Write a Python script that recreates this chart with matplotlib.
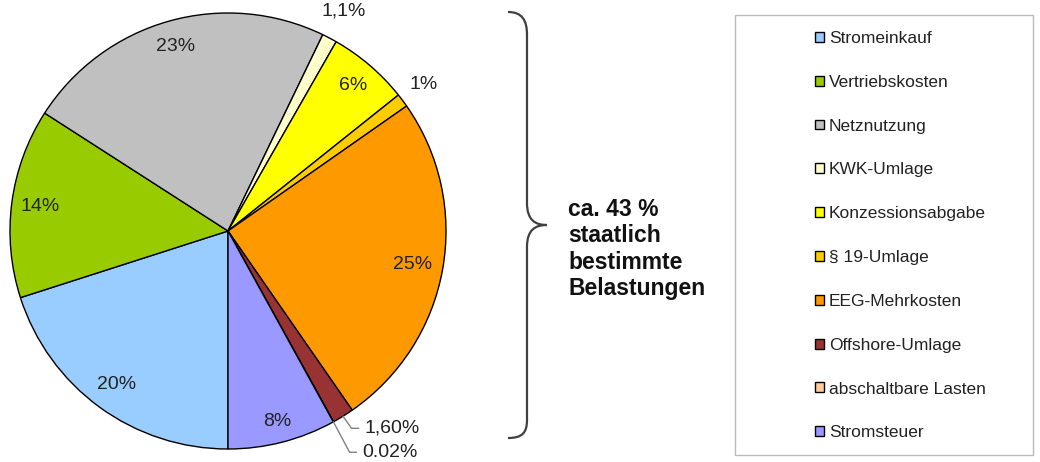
import numpy as np
import matplotlib
matplotlib.use("Agg")
import matplotlib.pyplot as plt
from matplotlib.path import Path
from matplotlib.patches import PathPatch, Rectangle

plt.rcParams['font.family'] = ['Liberation Sans', 'DejaVu Sans']

# Anteile am Strompreis (in %)
names = ["Stromeinkauf", "Vertriebskosten", "Netznutzung", "KWK-Umlage",
         "Konzessionsabgabe", "§ 19-Umlage", "EEG-Mehrkosten",
         "Offshore-Umlage", "abschaltbare Lasten", "Stromsteuer"]
values = [20, 14, 23, 1.1, 6, 1, 25, 1.6, 0.02, 8]
labels = ["20%", "14%", "23%", "1,1%", "6%", "1%", "25%", "1,60%", "0.02%", "8%"]
colors = ["#99CCFF", "#99CC00", "#C0C0C0", "#FFFFCC", "#FFFF00",
          "#FFCC00", "#FF9900", "#993333", "#FFCC99", "#9999FF"]
# label radius relative to pie radius (None -> leader line)
label_r = [0.87, 0.87, 0.88, 1.14, 0.88, 1.12, 0.86, None, None, 0.9]

W, H = 1040, 462
fig = plt.figure(figsize=(W / 100, H / 100), dpi=100)

# overlay in pixel coords
ov = fig.add_axes([0, 0, 1, 1])
ov.set_xlim(0, W)
ov.set_ylim(H, 0)
ov.axis('off')

cx, cy, R = 228, 231, 218
ax = fig.add_axes([(cx - R) / W, (H - cy - R) / H, 2 * R / W, 2 * R / H])
wedges, _ = ax.pie(values, colors=colors, startangle=-90, counterclock=False,
                   radius=1, wedgeprops=dict(edgecolor='black', linewidth=1))
ax.set_xlim(-1, 1)
ax.set_ylim(-1, 1)
ax.set_aspect('equal')
ax.axis('off')

for w, lab, r in zip(wedges, labels, label_r):
    mid = np.deg2rad((w.theta1 + w.theta2) / 2)
    if r is not None:
        ax.text(r * np.cos(mid), r * np.sin(mid), lab, ha='center', va='center',
                fontsize=14, color='#222222')

# leader lines for the tiny slices
w_off, w_abs = wedges[7], wedges[8]
m = np.deg2rad((w_off.theta1 + w_off.theta2) / 2)
ax.annotate(labels[7], xy=(np.cos(m), np.sin(m)), xytext=(0.625, -0.905),
            fontsize=14, color='#222222', va='center', ha='left',
            arrowprops=dict(arrowstyle='-', color='#808080', lw=1,
                            shrinkA=2, shrinkB=0,
                            connectionstyle='angle,angleA=0,angleB=125,rad=0'),
            annotation_clip=False)
m = np.deg2rad((w_abs.theta1 + w_abs.theta2) / 2)
ax.annotate(labels[8], xy=(np.cos(m), np.sin(m)), xytext=(0.615, -1.015),
            fontsize=14, color='#222222', va='center', ha='left',
            arrowprops=dict(arrowstyle='-', color='#808080', lw=1,
                            shrinkA=2, shrinkB=0,
                            connectionstyle='angle,angleA=0,angleB=118,rad=0'),
            annotation_clip=False)

# curly brace
verts = [(508, 12), (522, 12), (527, 20), (527, 35),
         (527, 203),
         (527, 220), (535, 225), (547, 225),
         (535, 225), (527, 230), (527, 247),
         (527, 420),
         (527, 433), (522, 438), (508, 438)]
codes = [Path.MOVETO, Path.CURVE4, Path.CURVE4, Path.CURVE4,
         Path.LINETO,
         Path.CURVE4, Path.CURVE4, Path.CURVE4,
         Path.CURVE4, Path.CURVE4, Path.CURVE4,
         Path.LINETO,
         Path.CURVE4, Path.CURVE4, Path.CURVE4]
ov.add_patch(PathPatch(Path(verts, codes), fill=False, edgecolor='#404040', lw=1.6))
ov.text(568, 249, "ca. 43 %\nstaatlich\nbestimmte\nBelastungen", fontsize=16.5,
        fontweight='bold', color='#111111', ha='left', va='center', linespacing=1.2)

# legend box
ov.add_patch(Rectangle((735, 15), 298, 440, fill=False, edgecolor='#BBBBBB', lw=1))
fig.legend(wedges, names, loc='upper left', bbox_to_anchor=(815 / W, 1 - 31 / H),
           frameon=False, fontsize=12.5, labelspacing=1.66, handlelength=0.5,
           handleheight=0.5, handletextpad=0.3, borderpad=0, borderaxespad=0,
           labelcolor='#222222')

fig.savefig("out.png", dpi=100)
